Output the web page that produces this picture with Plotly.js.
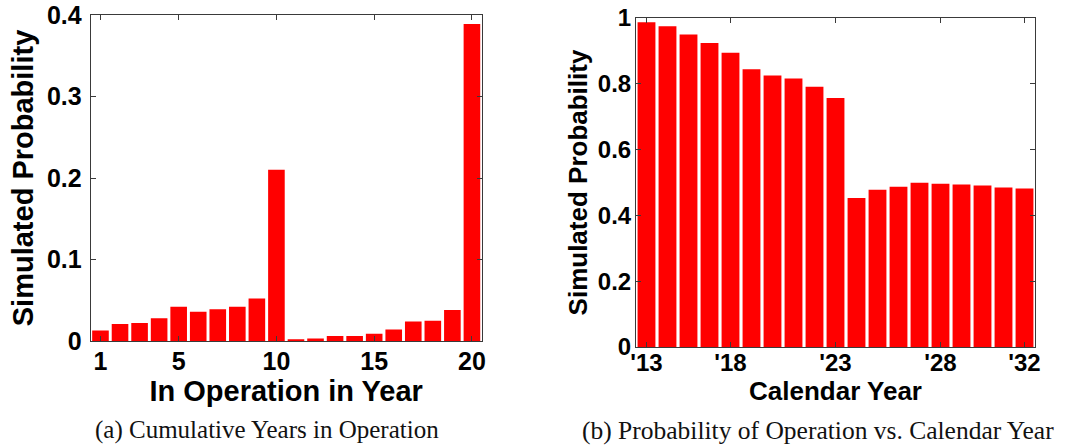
<!DOCTYPE html>
<html>
<head>
<meta charset="utf-8">
<script src="https://cdn.plot.ly/plotly-3.0.1.min.js"></script>
<style>html,body{margin:0;padding:0;background:#fff;}#chart{width:1066px;height:448px;}</style>
</head>
<body>
<div id="chart"></div>
<script>
// (a) Cumulative years in operation
const opYears = [1,2,3,4,5,6,7,8,9,10,11,12,13,14,15,16,17,18,19,20];
const opProb = [0.013,0.021,0.022,0.028,0.042,0.036,0.039,0.042,0.052,0.210,0.002,0.003,0.006,0.006,0.009,0.014,0.024,0.025,0.038,0.389];
const opTickVals = [1,5,10,15,20];
const opYTicks = [0,0.1,0.2,0.3,0.4];
const opYTickText = ['0','0.1','0.2','0.3','0.4'];

// (b) Probability of operation vs. calendar year
const calIndex = [1,2,3,4,5,6,7,8,9,10,11,12,13,14,15,16,17,18,19];
const calProb = [0.987,0.975,0.950,0.924,0.894,0.844,0.825,0.816,0.791,0.757,0.453,0.478,0.487,0.499,0.496,0.494,0.491,0.485,0.482];
const calTickVals = [1,5,10,15,19];
const calTickText = ["'13","'18","'23","'28","'32"];
const calYTicks = [0,0.2,0.4,0.6,0.8,1];
const calYTickText = ['0','0.2','0.4','0.6','0.8','1'];

const red = '#ff0000';
const sans = 'Liberation Sans, Arial, Helvetica, sans-serif';

function axisBase(extra){
  return Object.assign({
    showgrid:false, zeroline:false, showline:true, linecolor:'#3a3a3a', linewidth:1,
    mirror:'ticks', ticks:'inside', ticklen:5, tickcolor:'#3a3a3a', tickwidth:1,
    fixedrange:true
  }, extra);
}

const data = [
  {type:'bar', x:opYears, y:opProb, xaxis:'x', yaxis:'y', marker:{color:red, line:{width:0}}, hoverinfo:'x+y'},
  {type:'bar', x:calIndex, y:calProb, xaxis:'x2', yaxis:'y2', marker:{color:red, line:{width:0}}, hoverinfo:'x+y'}
];

const W = 1066, H = 448;
const layout = {
  width:W, height:H, margin:{l:0,r:0,t:0,b:0}, paper_bgcolor:'#fff', plot_bgcolor:'#fff',
  showlegend:false, bargap:0.15,
  xaxis: axisBase({domain:[90.7/W, 481.7/W], anchor:'y', range:[0.5,20.5], tickmode:'array', tickvals:opTickVals,
    tickfont:{family:sans, size:25, weight:'bold', color:'#000'}, ticklabelstandoff:-2,
    title:{text:'In Operation in Year', font:{family:sans, size:29, weight:'bold', color:'#000'}, standoff:6}}),
  yaxis: axisBase({domain:[1-341/H, 1-15/H], anchor:'x', range:[0,0.4], tickmode:'array', tickvals:opYTicks, ticktext:opYTickText,
    tickfont:{family:sans, size:25, weight:'bold', color:'#000'}, ticklabelstandoff:3,
    title:{text:'Simulated Probability', font:{family:sans, size:29, weight:'bold', color:'#000'}, standoff:4}}),
  xaxis2: axisBase({domain:[636/W, 1035/W], anchor:'y2', range:[0.5,19.5], tickmode:'array', tickvals:calTickVals, ticktext:calTickText,
    tickfont:{family:sans, size:24, weight:'bold', color:'#000'}, ticklabelstandoff:-6,
    title:{text:'Calendar Year', font:{family:sans, size:26, weight:'bold', color:'#000'}, standoff:0}}),
  yaxis2: axisBase({domain:[1-347/H, 1-18/H], anchor:'x2', range:[0,1], tickmode:'array', tickvals:calYTicks, ticktext:calYTickText,
    tickfont:{family:sans, size:24, weight:'bold', color:'#000'}, ticklabelstandoff:-1,
    title:{text:'Simulated Probability', font:{family:sans, size:26, weight:'bold', color:'#000'}, standoff:2}}),
  annotations:[
    {text:'(a) Cumulative Years in Operation', xref:'paper', yref:'paper', x:267/W, y:1-430/H, xanchor:'center', yanchor:'middle',
     showarrow:false, font:{family:'Liberation Serif, Times New Roman, serif', size:25, color:'#111'}},
    {text:'(b) Probability of Operation vs. Calendar Year', xref:'paper', yref:'paper', x:818/W, y:1-430/H, xanchor:'center', yanchor:'middle',
     showarrow:false, font:{family:'Liberation Serif, Times New Roman, serif', size:25.5, color:'#111'}}
  ]
};

Plotly.newPlot('chart', data, layout, {staticPlot:true, displayModeBar:false});
</script>
</body>
</html>
